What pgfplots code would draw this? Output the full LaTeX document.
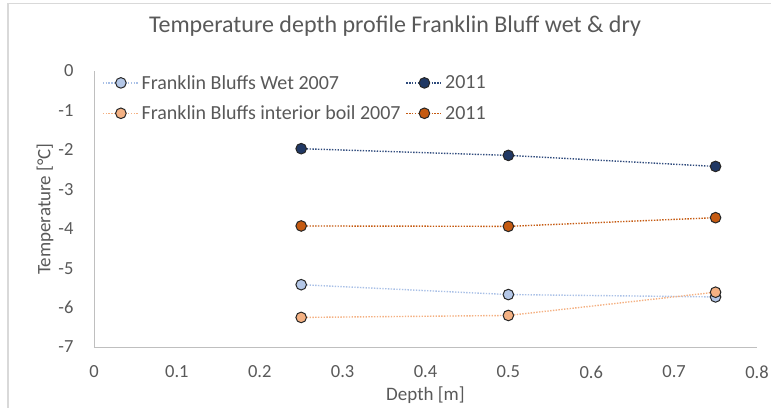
\documentclass[border=0pt]{standalone}
\usepackage{pgfplots}
\pgfplotsset{compat=1.18}
\usepackage{fontspec}
\setmainfont{Carlito}
\definecolor{txt}{HTML}{595959}
\definecolor{axl}{HTML}{BFBFBF}
\definecolor{wetA}{HTML}{B4C7E7}
\definecolor{wetAl}{HTML}{A9C0E6}
\definecolor{wetB}{HTML}{203864}
\definecolor{wetBl}{HTML}{2F4B7C}
\definecolor{boilA}{HTML}{F4B183}
\definecolor{boilB}{HTML}{C55A11}
\definecolor{mk}{HTML}{262626}
\begin{document}
\begin{tikzpicture}
\useasboundingbox (-94pt,-60pt) rectangle (677pt,347pt);
\draw[color=black!15,line width=1.2pt] (-86pt,-80pt) -- (-86pt,343.5pt) -- (700pt,343.5pt);
\begin{axis}[
  at={(0pt,0pt)}, anchor=south west,
  scale only axis, width=663pt, height=276pt,
  xmin=0, xmax=0.8, ymin=-7, ymax=0,
  xtick={0,0.1,...,0.8}, ytick={-7,-6,...,0},
  xticklabels={0,0.1,0.2,0.3,0.4,0.5,0.6,0.7,0.8},
  major tick length=0pt,
  axis x line*=bottom, axis y line*=left,
  axis line style={color=axl, line width=0.9pt, -},
  tick label style={font=\fontsize{18.5}{22}\selectfont, color=txt},
  /pgf/number format/assume math mode=true,
  xticklabel style={anchor=center, yshift=-25pt},
  yticklabel style={anchor=east, xshift=-17pt},
  xlabel={Depth [m]}, ylabel={Temperature [°C]},
  label style={font=\fontsize{19}{22}\selectfont, color=txt},
  xlabel style={at={(axis description cs:0.5,0)}, anchor=center, yshift=-48pt},
  ylabel style={at={(axis description cs:-0.074,0.5)}, anchor=center},
  title={Temperature depth profile Franklin Bluff wet \& dry},
  title style={font=\fontsize{24}{28}\selectfont, color=txt, at={(axis description cs:0.454,1)}, anchor=center, yshift=39pt},
  legend columns=2,
  legend style={at={(axis description cs:0,1)}, anchor=north west, xshift=8pt, yshift=-2pt,
    draw=none, fill=none, inner sep=0pt,
    font=\fontsize{20}{23}\selectfont, text=txt, row sep=11pt,
    nodes={inner sep=2pt},
    /tikz/every even column/.append style={column sep=3pt}},
  legend cell align=left,
  legend image code/.code={\draw[#1] (0pt,0pt) -- (36pt,0pt); \draw[#1, solid] plot coordinates {(18pt,0pt)};},
  every axis plot/.append style={line width=1.4pt, dash pattern=on 1.4pt off 1.4pt, mark=*, mark size=5.3pt},
]
\addplot[color=wetAl, mark options={solid, draw=mk, line width=1pt, fill=wetA}] coordinates {(0.25,-5.42) (0.5,-5.67) (0.75,-5.73)};
\addlegendentry{Franklin Bluffs Wet 2007}
\addplot[color=wetBl, mark options={solid, draw=mk, line width=1pt, fill=wetB}] coordinates {(0.25,-1.97) (0.5,-2.14) (0.75,-2.42)};
\addlegendentry{2011}
\addplot[color=boilA, mark options={solid, draw=mk, line width=1pt, fill=boilA}] coordinates {(0.25,-6.25) (0.5,-6.2) (0.75,-5.61)};
\addlegendentry{Franklin Bluffs interior boil 2007}
\addplot[color=boilB, mark options={solid, draw=mk, line width=1pt, fill=boilB}] coordinates {(0.25,-3.93) (0.5,-3.94) (0.75,-3.72)};
\addlegendentry{2011}
\end{axis}
\end{tikzpicture}
\end{document}
